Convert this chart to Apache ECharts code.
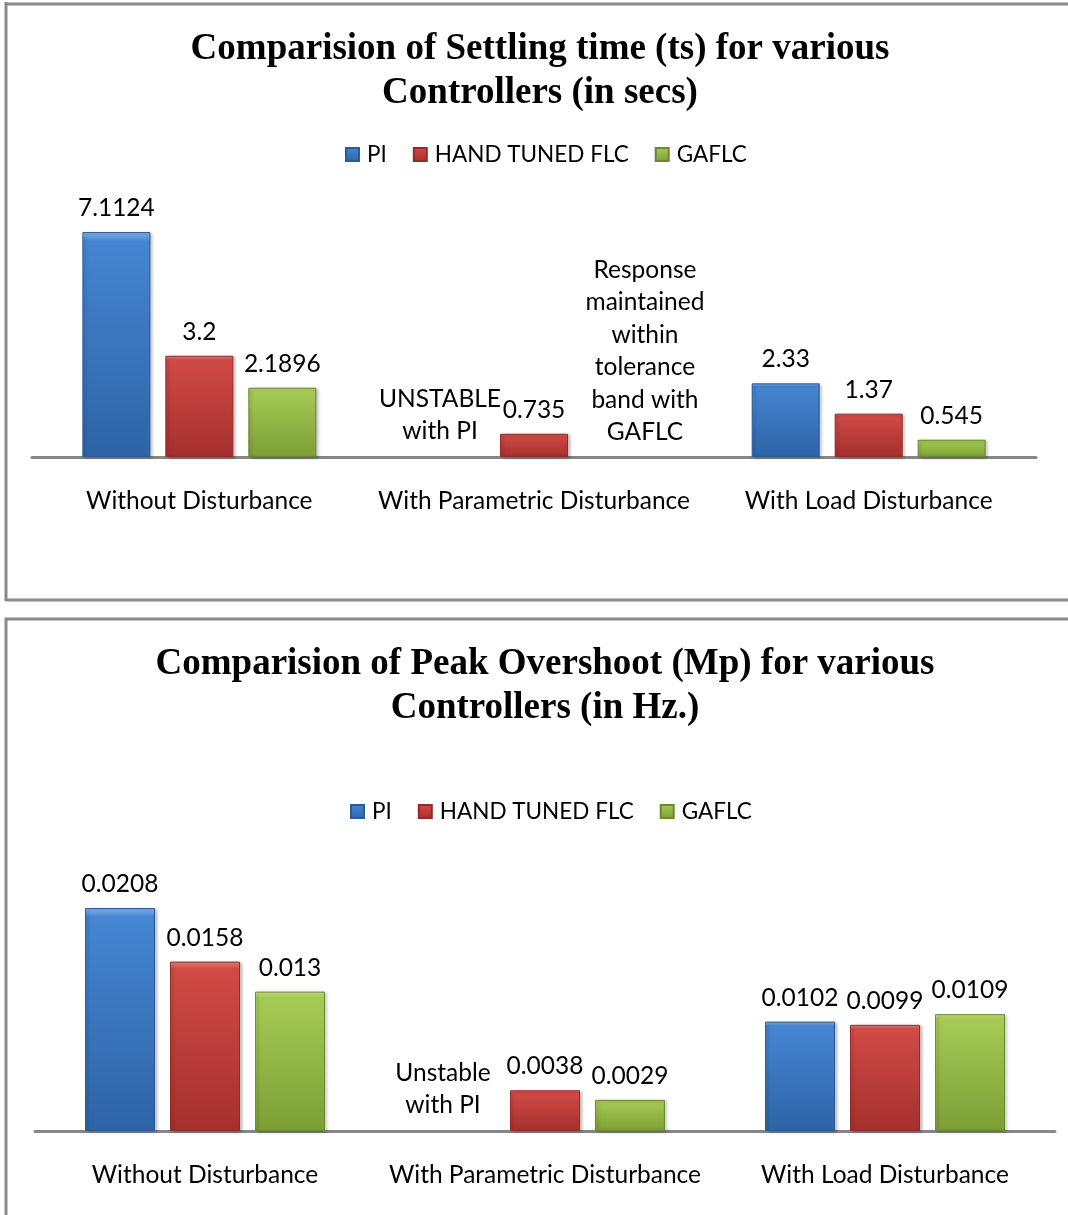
<!DOCTYPE html>
<html>
<head>
<meta charset="utf-8">
<style>
  html, body { margin: 0; padding: 0; background: #fff; }
  #chart { width: 1068px; height: 1215px; }
</style>
<script src="https://cdn.jsdelivr.net/npm/echarts@6/dist/echarts.min.js"></script>
</head>
<body>
<div id="chart"></div>
<script>
// Test conditions shown on both charts
const categories = ['Without Disturbance', 'With Parametric Disturbance', 'With Load Disturbance'];
const seriesNames = ['PI', 'HAND TUNED FLC', 'GAFLC'];

// Settling time ts (secs); PI is unstable under parametric disturbance
const settlingPI = [7.1124, null, 2.33];
const settlingFLC = [3.2, 0.735, 1.37];
const settlingGAFLC = [2.1896, null, 0.545];

// Peak overshoot Mp (Hz)
const overshootPI = [0.0208, null, 0.0102];
const overshootFLC = [0.0158, 0.0038, 0.0099];
const overshootGAFLC = [0.013, 0.0029, 0.0109];

// Notes written where a controller has no bar
const settlingNotePI = 'UNSTABLE\nwith PI';
const settlingNoteGAFLC = 'Response\nmaintained\nwithin\ntolerance\nband with\nGAFLC';
const overshootNotePI = 'Unstable\nwith PI';

const titles = [
  'Comparision of Settling time (ts) for various\nControllers (in secs)',
  'Comparision of Peak Overshoot (Mp) for various\nControllers (in Hz.)'
];

const SANS = 'Lato, "Open Sans", sans-serif';
const SERIF = '"Liberation Serif", "Times New Roman", serif';
const FS = 24.5;

function bevel(top, face, bottom) {
  return {
    type: 'linear', x: 0, y: 0, x2: 0, y2: 1,
    colorStops: [
      { offset: 0, color: top },
      { offset: 0.04, color: face },
      { offset: 1, color: bottom }
    ]
  };
}
const fills = [
  bevel('#86b6ee', '#4585d2', '#2e64a6'),
  bevel('#ec8a86', '#d14a46', '#a5302c'),
  bevel('#cfe68d', '#a6cb55', '#7c9e36')
];
const edges = ['#2a5b98', '#962a27', '#6a8a2c'];

function barSeries(idx, data, gridIdx, width, gap) {
  return {
    name: seriesNames[idx],
    type: 'bar',
    xAxisIndex: gridIdx,
    yAxisIndex: gridIdx,
    data: data,
    barWidth: width,
    barGap: gap,
    itemStyle: {
      color: fills[idx],
      borderColor: edges[idx],
      borderWidth: 1,
      shadowColor: 'rgba(0,0,0,0.25)',
      shadowBlur: 3,
      shadowOffsetX: 2,
      shadowOffsetY: 1
    },
    label: {
      show: true,
      position: 'top',
      distance: 11.5,
      fontFamily: SANS,
      fontSize: FS,
      color: '#000',
      formatter: p => String(p.value)
    }
  };
}

// Text note anchored to a bar slot of the middle category
function note(text, cat, dx, dy, lh) {
  return {
    symbol: 'circle',
    symbolSize: 1,
    itemStyle: { color: 'rgba(0,0,0,0)' },
    label: {
      show: true,
      position: 'top',
      distance: 0,
      offset: [dx, dy],
      formatter: text,
      fontFamily: SANS,
      fontSize: FS,
      lineHeight: lh,
      color: '#000',
      align: 'center'
    },
    data: [{ coord: [cat, 0] }]
  };
}

const chart = echarts.init(document.getElementById('chart'), null, { renderer: 'canvas' });

function xAxis(gridIdx) {
  return {
    type: 'category',
    gridIndex: gridIdx,
    data: categories,
    axisLine: { lineStyle: { color: '#868686', width: 3 } },
    axisTick: { show: false },
    axisLabel: { interval: 0, margin: 32, fontFamily: SANS, fontSize: FS, color: '#000' }
  };
}
function yAxis(gridIdx, max) {
  return { type: 'value', gridIndex: gridIdx, min: 0, max: max, show: false, splitLine: { show: false } };
}

const sPI1 = barSeries(0, settlingPI, 0, 68, '22%');
sPI1.markPoint = note(settlingNotePI, categories[1], -11, -9, 32);
const sG1 = barSeries(2, settlingGAFLC, 0, 68, '22%');
sG1.markPoint = note(settlingNoteGAFLC, categories[1], 28, -8, 32.5);
const sPI2 = barSeries(0, overshootPI, 1, 70, '21.4%');
sPI2.markPoint = note(overshootNotePI, categories[1], -17, -9, 32);

function legend(left, top) {
  return {
    left: left, top: top, padding: 0,
    itemWidth: 13, itemHeight: 13, itemGap: 26,
    icon: 'rect',
    data: seriesNames,
    textStyle: { fontFamily: SANS, fontSize: 22.5, color: '#000', padding: [0, 0, 0, 3] }
  };
}

const frameColor = '#8a8a8a';
function line(x1, y1, x2, y2) {
  return { type: 'line', shape: { x1, y1, x2, y2 }, style: { stroke: frameColor, lineWidth: 3 }, z: 100 };
}

chart.setOption({
  animation: false,
  backgroundColor: '#fff',
  title: [
    { text: titles[0], left: 540, top: 27, padding: 0, textAlign: 'center',
      textStyle: { fontFamily: SERIF, fontWeight: 'bold', fontSize: 37, lineHeight: 44, color: '#000' } },
    { text: titles[1], left: 545, top: 642, padding: 0, textAlign: 'center',
      textStyle: { fontFamily: SERIF, fontWeight: 'bold', fontSize: 37, lineHeight: 44, color: '#000' } }
  ],
  legend: [legend(345, 143), legend(350, 800)],
  grid: [
    { left: 32, right: 32, top: 204, bottom: 758 },
    { left: 35, right: 13, top: 863, bottom: 84 }
  ],
  xAxis: [xAxis(0), xAxis(1)],
  yAxis: [yAxis(0, 8), yAxis(1, 0.025)],
  series: [
    sPI1,
    barSeries(1, settlingFLC, 0, 68, '22%'),
    sG1,
    sPI2,
    barSeries(1, overshootFLC, 1, 70, '21.4%'),
    barSeries(2, overshootGAFLC, 1, 70, '21.4%')
  ],
  graphic: [
    line(6, 2, 6, 601),
    line(5, 4, 1068, 4),
    line(5, 600, 1068, 600),
    line(5, 619, 1068, 619),
    line(6, 618, 6, 1215)
  ]
});
</script>
</body>
</html>
